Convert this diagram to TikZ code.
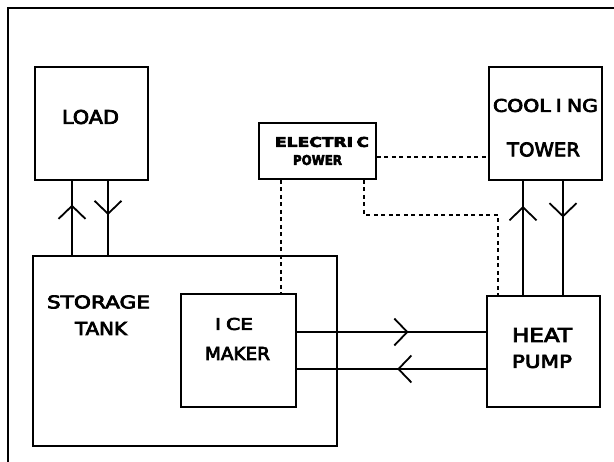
\documentclass[tikz,border=0pt]{standalone}
\usepackage{fontspec}
\setmainfont[FakeBold=4]{DejaVu Sans}
\usepackage{graphicx}
\usetikzlibrary{arrows.meta,decorations.markings}
\newcommand\plotlbl[3]{\resizebox{#1}{#2}{#3}}
\begin{document}
\begin{tikzpicture}[x=1pt,y=-1pt,
  box/.style 2 args={draw,line width=1.8pt,inner sep=0pt,minimum width=#1,minimum height=#2},
  txt/.style={inner sep=0pt,anchor=center},
  flow/.style={line width=1.8pt},
  ctrl/.style={line width=1.5pt,dash pattern=on 4pt off 3.5pt},
  midarrow/.style={postaction={decorate,decoration={markings,
      mark=at position #1 with {\arrow{Straight Barb[length=13pt,width=27pt]}}}}}]
\useasboundingbox (0,0) rectangle (614,462);
% frame
\draw[line width=2.4pt] (8,462) -- (8,8) -- (614,8);
% boxes
\node[box={113pt}{113pt}] (load)  at (91.5,123.5) {};
\node[box={117pt}{56pt}]  (elec)  at (317.5,151) {};
\node[box={113pt}{113pt}] (tower) at (545.5,123.5) {};
\node[box={304pt}{190pt}] (tank)  at (185,351) {};
\node[box={115pt}{113pt}] (ice)   at (238.5,350.5) {};
\node[box={113pt}{111pt}] (pump)  at (543.5,351.5) {};
% labels
\node[txt] (tload)  at (90.5,117)  {\plotlbl{57pt}{14pt}{LOAD}};
\node[txt] (tcool)  at (545.5,105.5) {\plotlbl{105pt}{13pt}{COOL\hspace{2.5pt}I\hspace{2.5pt}NG}};
\node[txt] (ttower) at (543.5,149.5) {\plotlbl{73pt}{14pt}{TOWER}};
\node[txt,font=\bfseries] (telec)  at (322,142)  {\plotlbl{94pt}{10pt}{ELECTRI\hspace{2pt}C}};
\node[txt,font=\bfseries] (tpow)   at (317.5,160) {\plotlbl{49pt}{10pt}{POWER}};
\node[txt] (tstor)  at (98.5,302)  {\plotlbl{103pt}{13pt}{STORAGE}};
\node[txt] (ttank)  at (101,328.5) {\plotlbl{52pt}{13pt}{TANK}};
\node[txt] (tice)   at (234,324)   {\plotlbl{38pt}{12pt}{I\hspace{2.5pt}CE}};
\node[txt] (tmaker) at (237.5,353.5) {\plotlbl{65pt}{13pt}{MAKER}};
\node[txt] (theat)  at (542,335)   {\plotlbl{60pt}{14pt}{HEAT}};
\node[txt] (tpump)  at (542,361.5) {\plotlbl{60pt}{13pt}{PUMP}};
% flow lines
\coordinate (xa) at (72,0);
\coordinate (xb) at (108,0);
\coordinate (xc) at (523,0);
\coordinate (xd) at (563,0);
\coordinate (ya) at (0,332);
\coordinate (yb) at (0,369);
\draw[flow,midarrow=0.68] (tank.north -| xa) -- (load.south -| xa);
\draw[flow,midarrow=0.46] (load.south -| xb) -- (tank.north -| xb);
\draw[flow,midarrow=0.78] (pump.north -| xc) -- (tower.south -| xc);
\draw[flow,midarrow=0.32] (tower.south -| xd) -- (pump.north -| xd);
\draw[flow,midarrow=0.59] (ice.east |- ya) -- (pump.west |- ya);
\draw[flow,midarrow=0.47] (pump.west |- yb) -- (ice.east |- yb);
% control (dashed) lines
\coordinate (da) at (281,0);
\coordinate (db) at (0,157);
\coordinate (dc) at (364,215);
\coordinate (dd) at (498,215);
\draw[ctrl] (elec.south -| da) -- (ice.north -| da);
\draw[ctrl] (elec.east |- db) -- (tower.west |- db);
\draw[ctrl] (elec.south -| dc) -- (dc) -- (dd) -- (pump.north -| dd);
\end{tikzpicture}
\end{document}
